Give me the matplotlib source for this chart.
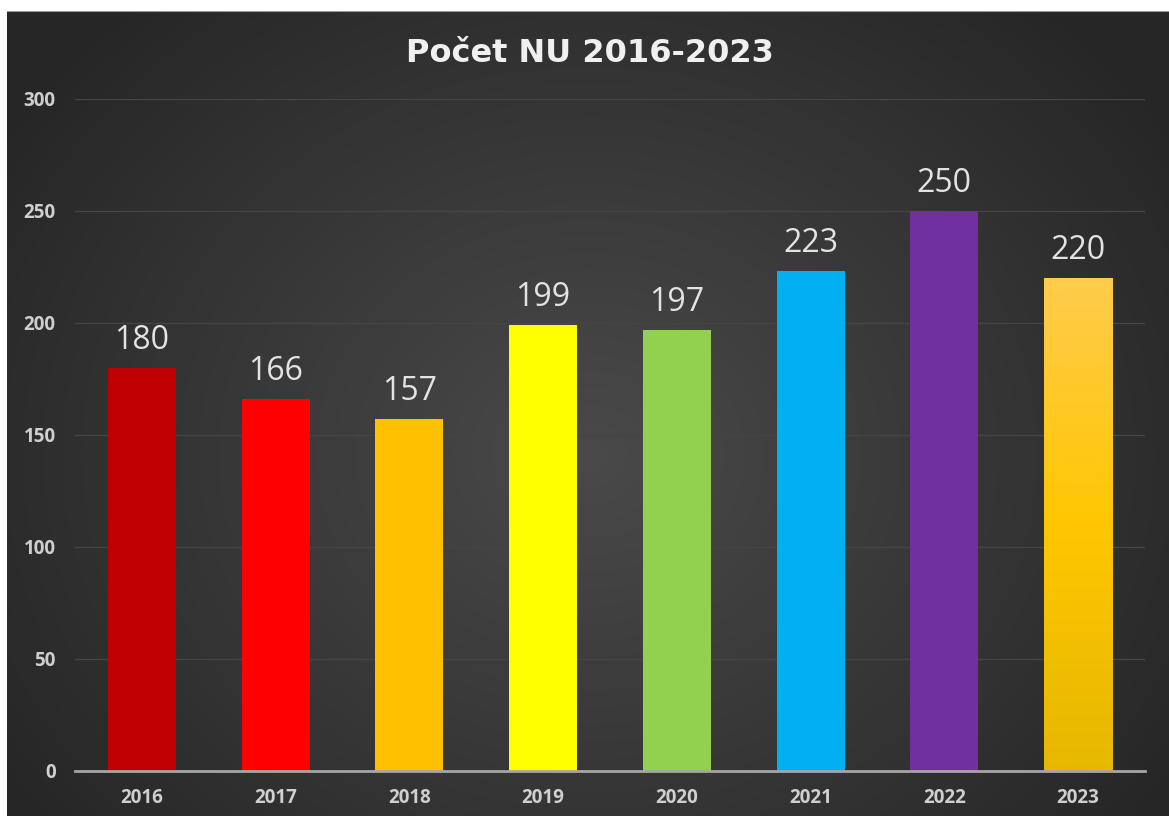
import numpy as np
import matplotlib.pyplot as plt

years = ["2016", "2017", "2018", "2019", "2020", "2021", "2022", "2023"]
counts = [180, 166, 157, 199, 197, 223, 250, 220]
bar_colors = ["#C00000", "#FF0000", "#FFC000", "#FFFF00", "#92D050", "#00B0F0", "#7030A0", "#FFC000"]
yticks = [0, 50, 100, 150, 200, 250, 300]

plt.rcParams["font.family"] = ["Open Sans", "DejaVu Sans"]

fig = plt.figure(figsize=(11.69, 8.16), dpi=100)
fig.patch.set_facecolor("white")

# dark panel with a soft radial light in the middle
bg = fig.add_axes([7 / 1169, 0, 1 - 7 / 1169, 1 - 11 / 816])
h, w = 400, 580
yy, xx = np.mgrid[0:h, 0:w]
r = np.sqrt(((xx - w * 0.5) / (w * 0.6)) ** 2 + ((yy - h * 0.55) / (h * 0.75)) ** 2)
shade = np.clip(0.29 - 0.14 * r, 0.15, 0.29)
bg.imshow(np.dstack([shade] * 3), aspect="auto", extent=[0, 1, 0, 1])
bg.set_axis_off()
bg.set_zorder(0)
bg.axhline(1, color="#9a9a9a", lw=1.5)

ax = fig.add_axes([75 / 1169, 45 / 816, 1070 / 1169, 672 / 816])
ax.set_zorder(1)
ax.patch.set_alpha(0)

x = np.arange(len(years))
bars = ax.bar(x, counts, width=0.51, color=bar_colors, zorder=3)

# golden gradient on the last bar
last = bars[-1]
grad = np.linspace(0, 1, 256).reshape(-1, 1)
cols = np.array([[0.90, 0.72, 0.0], [1.0, 0.78, 0.0], [1.0, 0.80, 0.30]])
stops = np.array([0.0, 0.5, 1.0])
img = np.dstack([np.interp(grad, stops, cols[:, i]) for i in range(3)])
bx, bw = last.get_x(), last.get_width()
im = ax.imshow(img, origin="lower", aspect="auto",
               extent=[bx, bx + bw, 0, counts[-1]], zorder=4)
im.set_clip_path(last)

for xi, v in zip(x, counts):
    ax.text(xi, v + 5, str(v), ha="center", va="bottom",
            fontsize=23, color="#E3E3E3", zorder=5)

ax.set_xlim(-0.5, len(years) - 0.5)
ax.set_ylim(0, 300)
ax.set_yticks(yticks)
ax.set_xticks(x)
ax.set_xticklabels(years)
for lbl in ax.get_xticklabels() + ax.get_yticklabels():
    lbl.set_fontweight("bold")
    lbl.set_color("#CFCFCF")
    lbl.set_fontsize(13.5)
ax.tick_params(length=0)
ax.tick_params(axis="y", pad=14)
ax.tick_params(axis="x", pad=12)
ax.grid(axis="y", color="#454545", lw=1, zorder=0)
for s in ["top", "right", "left"]:
    ax.spines[s].set_visible(False)
ax.spines["bottom"].set_color("#A6A6A6")
ax.spines["bottom"].set_linewidth(2)
ax.spines["bottom"].set_zorder(6)

fig.text(0.505, 1 - 53 / 816, "Počet NU 2016-2023", ha="center", va="center",
         fontsize=23, fontweight="bold", color="#F0F0F0", family="DejaVu Sans")

fig.savefig("out.png", dpi=100)
